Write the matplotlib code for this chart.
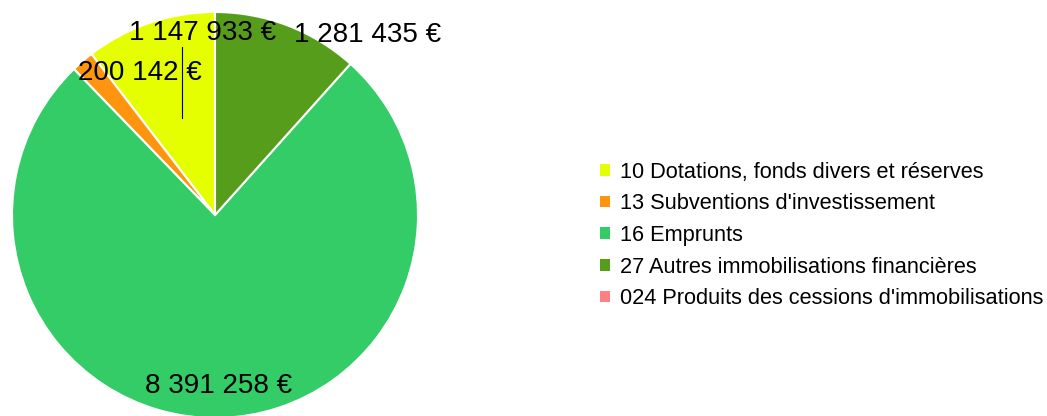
import matplotlib.pyplot as plt
from matplotlib.patches import Patch

plt.rcParams['font.family'] = ['Liberation Sans', 'DejaVu Sans']

categories = [
    "10 Dotations, fonds divers et réserves",
    "13 Subventions d'investissement",
    "16 Emprunts",
    "27 Autres immobilisations financières",
    "024 Produits des cessions d'immobilisations",
]
values = [1147933, 200142, 8391258, 1281435, 0]
value_labels = ["1 147 933 €", "200 142 €", "8 391 258 €", "1 281 435 €", ""]
colors = ["#e6ff00", "#ff950e", "#33cc66", "#579d1c", "#ff8080"]

# label positions (pie radius = 1), as placed by the original renderer
label_pos = [(-0.06, 0.895), (-0.37, 0.70), (0.02, -0.84), (0.75, 0.885), None]

fig = plt.figure(figsize=(10.47, 4.16), dpi=100)
ax = fig.add_axes([12 / 1047, -2 / 416, 406 / 1047, 406 / 416])

shown = [(v, c) for v, c in zip(values, colors) if v > 0]
ax.pie([v for v, c in shown], colors=[c for v, c in shown], startangle=90,
       counterclock=True, radius=1,
       wedgeprops=dict(edgecolor="white", linewidth=1.5))

for txt, pos in zip(value_labels, label_pos):
    if pos is None:
        continue
    ax.text(pos[0], pos[1], txt, ha="center", va="center", fontsize=20)

# leader line for the small slice
ax.plot([-0.163, -0.163], [0.828, 0.478], color="black", linewidth=0.8)

ax.set_xlim(-1, 1)
ax.set_ylim(-1, 1)
ax.set_aspect("equal")
ax.axis("off")

handles = [Patch(facecolor=c, edgecolor="none") for c in colors]
fig.legend(handles, categories, loc="center left", bbox_to_anchor=(0.5643, 0.434),
           frameon=False, fontsize=15.7, handlelength=0.46, handleheight=0.46,
           handletextpad=0.46, labelspacing=0.49, borderaxespad=0)

fig.savefig("out.png", dpi=100)
